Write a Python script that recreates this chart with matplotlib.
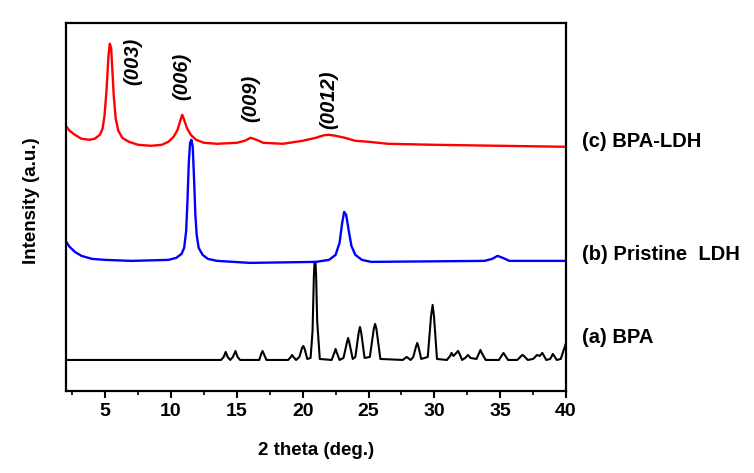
import numpy as np
import matplotlib
matplotlib.use("Agg")
import matplotlib.pyplot as plt
from matplotlib.ticker import MultipleLocator

plt.rcParams['font.family'] = ['Liberation Sans', 'DejaVu Sans']
plt.rcParams['font.weight'] = 'bold'

# (a) BPA - traced points, 2 theta vs intensity (a.u.)
bpa_x = [2.0, 13.8, 14.0, 14.15, 14.3, 14.5, 14.7, 14.9, 15.05, 15.25,
         16.7, 16.85, 16.95, 17.05, 17.25, 18.9, 19.1, 19.2, 19.3, 19.5,
         19.75, 19.95, 20.05, 20.15, 20.35, 20.6, 20.75, 20.85, 20.9, 20.97,
         21.02, 21.1, 21.3, 22.2, 22.4, 22.5, 22.6, 22.8, 23.1, 23.35,
         23.45, 23.55, 23.8, 24.0, 24.25, 24.35, 24.45, 24.7, 25.1, 25.4,
         25.5, 25.6, 25.9, 27.6, 27.8, 27.9, 28.0, 28.2, 28.4, 28.6,
         28.7, 28.8, 29.0, 29.5, 29.75, 29.87, 29.97, 30.2, 30.95, 31.2,
         31.3, 31.45, 31.6, 31.8, 31.95, 32.1, 32.35, 32.55, 32.75, 33.2,
         33.4, 33.5, 33.6, 33.9, 34.9, 35.15, 35.25, 35.35, 35.6, 36.3,
         36.6, 36.7, 36.8, 37.1, 37.5, 37.8, 38.0, 38.2, 38.5, 38.8,
         39.0, 39.3, 39.6, 39.85, 40.0]
bpa_y = [31, 31, 34, 39, 34, 31, 34, 40, 34, 31,
         31, 37, 40, 37, 31, 31, 34, 36, 34, 31,
         34, 43, 45, 42, 32, 33, 60, 115, 129, 129,
         115, 70, 32, 31, 38, 42, 38, 31, 33, 48,
         53, 48, 32, 34, 58, 64, 58, 33, 34, 62,
         67, 62, 32, 31, 33, 34, 33, 31, 34, 44,
         48, 44, 32, 34, 75, 86, 75, 32, 31, 35,
         38, 35, 37, 40, 36, 31, 33, 36, 33, 32,
         38, 41, 38, 31, 31, 36, 38, 36, 31, 31,
         35, 36, 35, 31, 32, 36, 35, 38, 31, 32,
         37, 31, 32, 42, 48]

# (b) Pristine LDH
ldh_x = [2.0, 2.3, 2.7, 3.2, 4.0, 5.0, 7.0, 9.8, 10.4, 10.8,
         11.0, 11.15, 11.25, 11.35, 11.45, 11.55, 11.65, 11.75, 11.85, 11.95,
         12.1, 12.4, 12.8, 13.5, 16.0, 21.0, 22.0, 22.5, 22.8, 23.0,
         23.15, 23.3, 23.5, 23.7, 24.0, 24.5, 25.2, 33.8, 34.4, 34.8,
         35.2, 35.7, 40.0]
ldh_y = [150, 144, 139, 135, 132, 131, 130, 131, 133, 137,
         143, 160, 190, 228, 248, 251, 244, 212, 176, 156,
         143, 136, 132, 130, 128, 129, 131, 136, 148, 168,
         179, 176, 160, 145, 136, 131, 129, 130, 132, 135,
         133, 130, 130]

# (c) BPA-LDH
bpaldh_x = [2.0, 2.3, 2.7, 3.2, 3.8, 4.2, 4.6, 4.8, 4.95, 5.1,
            5.25, 5.35, 5.45, 5.55, 5.65, 5.8, 6.0, 6.3, 6.8, 7.5,
            8.5, 9.3, 9.8, 10.2, 10.5, 10.7, 10.85, 11.0, 11.2, 11.5,
            11.9, 12.5, 13.5, 15.0, 15.6, 16.05, 16.5, 17.0, 18.5, 20.0,
            21.0, 21.6, 22.0, 22.5, 23.2, 24.0, 25.0, 26.5, 30.0, 35.0,
            40.0]
bpaldh_y = [265, 260, 256, 252, 251, 252, 256, 262, 275, 300,
            335, 347, 343, 320, 295, 272, 260, 253, 249, 246,
            245, 246, 249, 254, 261, 270, 276, 271, 263, 256,
            251, 248, 247, 248, 250, 253, 251, 248, 247, 250,
            253, 255.5, 256, 255, 253, 250, 249, 247, 246, 245,
            244]

peak_labels = ['(003)', '(006)', '(009)', '(0012)']
peak_label_x = [7.1, 10.85, 16.05, 21.95]
peak_label_y = [329, 314, 292, 291]

sample_labels = ['(c) BPA-LDH', '(b) Pristine  LDH', '(a) BPA']
sample_label_y = [249, 136, 53]

fig = plt.figure(figsize=(7.54, 4.73), dpi=100)
ax = fig.add_axes([0.0871, 0.1734, 0.6636, 0.7786])

ax.plot(bpa_x, bpa_y, color='black', lw=1.5)
ax.plot(ldh_x, ldh_y, color='#0000ff', lw=1.7)
ax.plot(bpaldh_x, bpaldh_y, color='#ff0000', lw=1.7)

for lab, x, y in zip(peak_labels, peak_label_x, peak_label_y):
    ax.text(x, y, lab, rotation=90, ha='center', va='center',
            fontsize=14.5, fontweight='bold', fontstyle='italic')

for lab, y in zip(sample_labels, sample_label_y):
    ax.text(41.2, y, lab, ha='left', va='center', fontsize=14.5,
            fontweight='bold', clip_on=False)

ax.set_xlim(2, 40)
ax.set_ylim(0, 368)
ax.xaxis.set_major_locator(MultipleLocator(5))
ax.xaxis.set_minor_locator(MultipleLocator(2.5))
ax.set_yticks([])
ax.tick_params(axis='x', which='major', length=5, width=1.5, direction='out',
               labelsize=14, pad=3.5)
ax.tick_params(axis='x', which='minor', length=3, width=1.2, direction='out')
for s in ax.spines.values():
    s.set_linewidth(1.6)

ax.set_xlabel('2 theta (deg.)', fontsize=13.5, fontweight='bold')
ax.xaxis.set_label_coords(0.5, -0.138)
ax.xaxis.label.set_va('top')
ax.set_ylabel('Intensity (a.u.)', fontsize=13.5, fontweight='bold')
ax.yaxis.set_label_coords(-0.051, 0.516)

fig.savefig('out.png', dpi=100)
